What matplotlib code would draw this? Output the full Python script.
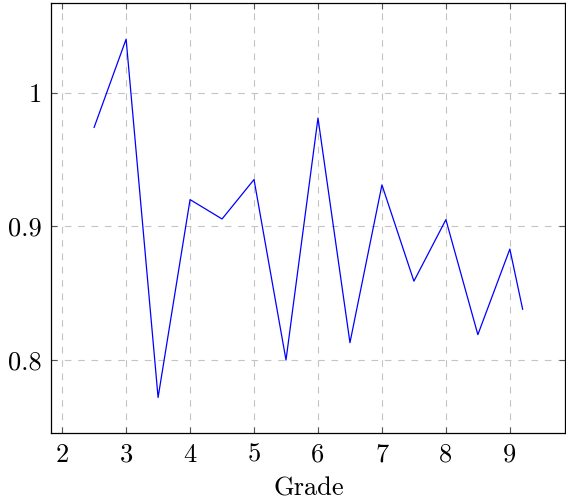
import numpy as np
import matplotlib
matplotlib.use("Agg")
import matplotlib.pyplot as plt

# grade vs. ratio
grade = [2.5, 3, 3.5, 4, 4.5, 5, 5.5, 6, 6.5, 7, 7.5, 8, 8.5, 9, 9.2]
ratio = [0.974, 1.040, 0.772, 0.920, 0.9055, 0.935, 0.800, 0.981,
         0.813, 0.931, 0.859, 0.905, 0.819, 0.883, 0.838]
xticks = [2, 3, 4, 5, 6, 7, 8, 9]
yticks = [0.8, 0.9, 1.0]
ytick_labels = ["0.8", "0.9", "1"]

plt.rcParams['font.family'] = ['cmr10', 'DejaVu Serif']
plt.rcParams['axes.formatter.use_mathtext'] = True
plt.rcParams['font.size'] = 19

fig = plt.figure(figsize=(5.66, 5.01), dpi=100)
ax = fig.add_axes([0.0906, 0.1351, 0.9085, 0.8583])

ax.plot(grade, ratio, color=(0, 0, 1), linewidth=0.9)

# pgfplots style limits (10% enlargement)
xr = max(grade) - min(grade)
yr = max(ratio) - min(ratio)
ax.set_xlim(min(grade) - 0.1 * xr, max(grade) + 0.1 * xr)
ax.set_ylim(min(ratio) - 0.1 * yr, max(ratio) + 0.1 * yr)

ax.set_xticks(xticks)
ax.set_xticklabels([str(t) for t in xticks])
ax.set_yticks(yticks)
ax.set_yticklabels(ytick_labels)

ax.grid(True, color='#c4c4c4', linestyle=(0, (6, 6)), linewidth=0.8)
ax.set_axisbelow(True)
ax.tick_params(direction='in', length=4.5, width=0.8, color='#555555',
               top=True, right=True, pad=7)
for s in ax.spines.values():
    s.set_linewidth(0.9)

ax.set_xlabel('Grade', labelpad=7)

fig.savefig('out.png', dpi=100)
